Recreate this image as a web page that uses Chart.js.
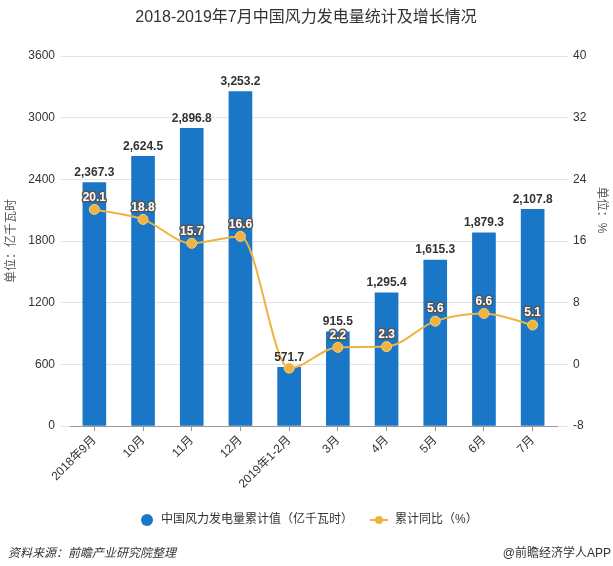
<!DOCTYPE html>
<html>
<head>
<meta charset="utf-8">
<script src="https://cdn.jsdelivr.net/npm/chart.js@4"></script>
<style>
html,body{margin:0;padding:0;background:#fff;}
#wrap{width:613px;height:566px;position:relative;}
</style>
</head>
<body>
<div id="wrap"><canvas id="c" width="613" height="566"></canvas></div>
<script>
const categories = ["2018年9月","10月","11月","12月","2019年1-2月","3月","4月","5月","6月","7月"];
const windPower = [2367.3, 2624.5, 2896.8, 3253.2, 571.7, 915.5, 1295.4, 1615.3, 1879.3, 2107.8];
const growth = [20.1, 18.8, 15.7, 16.6, -0.5, 2.2, 2.3, 5.6, 6.6, 5.1];
const leftTicks = [0, 600, 1200, 1800, 2400, 3000, 3600];
const rightTicks = [-8, 0, 8, 16, 24, 32, 40];

const titleText = "2018-2019年7月中国风力发电量统计及增长情况";
const barName = "中国风力发电量累计值（亿千瓦时）";
const lineName = "累计同比（%）";
const leftTitle = "单位：亿千瓦时";
const rightTitle = "单位：%";
const sourceText = "资料来源：前瞻产业研究院整理";
const brandText = "@前瞻经济学人APP";

const FONT = 'Arial, "Liberation Sans", "Noto Sans CJK SC", sans-serif';
const BAR_COLOR = "#1a76c7";
const LINE_COLOR = "#efb33f";

function fmt(v){
  return v.toLocaleString("en-US",{minimumFractionDigits:1,maximumFractionDigits:1});
}

const extras = {
  id: "extras",
  afterDatasetsDraw(chart){
    const ctx = chart.ctx;
    ctx.save();
    const bm = chart.getDatasetMeta(1);
    ctx.font = "bold 12px " + FONT;
    ctx.fillStyle = "#333";
    ctx.textAlign = "center";
    ctx.textBaseline = "bottom";
    bm.data.forEach((el,i)=>{
      ctx.fillText(fmt(windPower[i]), el.x, el.y - 4);
    });
    const lm = chart.getDatasetMeta(0);
    ctx.textBaseline = "middle";
    ctx.lineJoin = "round";
    lm.data.forEach((el,i)=>{
      if (growth[i] < 0) return;
      const t = growth[i].toFixed(1);
      ctx.lineWidth = 3;
      ctx.strokeStyle = "#555";
      ctx.strokeText(t, el.x, el.y - 12);
      ctx.fillStyle = "#fff";
      ctx.fillText(t, el.x, el.y - 12);
    });
    ctx.restore();
  },
  afterDraw(chart){
    const ctx = chart.ctx;
    const a = chart.chartArea;
    ctx.save();
    ctx.fillStyle = "#333";
    ctx.font = "16px " + FONT;
    ctx.textAlign = "center";
    ctx.textBaseline = "middle";
    ctx.fillText(titleText, 306, 18);
    ctx.font = "12px " + FONT;
    ctx.fillStyle = "#555";
    ctx.save();
    ctx.translate(12, (a.top + a.bottom)/2);
    ctx.rotate(-Math.PI/2);
    ctx.fillText(leftTitle, 0, 0);
    ctx.restore();
    ctx.save();
    ctx.translate(601, 210);
    ctx.rotate(Math.PI/2);
    ctx.fillText(rightTitle, 0, 0);
    ctx.restore();
    const ly = 520;
    ctx.fillStyle = BAR_COLOR;
    ctx.beginPath(); ctx.arc(147, ly, 6, 0, Math.PI*2); ctx.fill();
    ctx.fillStyle = "#333";
    ctx.textAlign = "left";
    ctx.font = "12px " + FONT;
    ctx.fillText(barName, 161, ly);
    ctx.strokeStyle = LINE_COLOR; ctx.lineWidth = 2;
    ctx.beginPath(); ctx.moveTo(370, ly); ctx.lineTo(388, ly); ctx.stroke();
    ctx.fillStyle = LINE_COLOR;
    ctx.beginPath(); ctx.arc(379, ly, 4, 0, Math.PI*2); ctx.fill();
    ctx.fillStyle = "#333";
    ctx.fillText(lineName, 395, ly);
    ctx.font = "italic 12px " + FONT;
    ctx.fillText(sourceText, 8, 554);
    ctx.font = "12px " + FONT;
    ctx.textAlign = "right";
    ctx.fillText(brandText, 611, 554);
    ctx.restore();
  }
};

new Chart(document.getElementById("c"), {
  data: {
    labels: categories,
    datasets: [
      {
        type: "line",
        label: lineName,
        data: growth,
        yAxisID: "y1",
        borderColor: LINE_COLOR,
        backgroundColor: LINE_COLOR,
        borderWidth: 2,
        pointRadius: 5,
        pointBackgroundColor: LINE_COLOR,
        pointBorderColor: "#f7cf7e",
        pointBorderWidth: 1,
        tension: 0.4,
        cubicInterpolationMode: "monotone",
        order: 0
      },
      {
        type: "bar",
        label: barName,
        data: windPower,
        yAxisID: "y",
        backgroundColor: BAR_COLOR,
        barThickness: 23,
        order: 1
      }
    ]
  },
  options: {
    responsive: false,
    animation: false,
    devicePixelRatio: 1,
    layout: { padding: { top: 56, left: 0, right: 0, bottom: 0 } },
    plugins: { legend: { display: false }, tooltip: { enabled: false }, title: { display: false } },
    scales: {
      x: {
        type: "category",
        offset: true,
        grid: { display: true, drawOnChartArea: false, drawTicks: true, tickLength: 5, color: "#999", offset: false },
        border: { display: true, color: "#999" },
        ticks: { color: "#333", font: { size: 12, family: FONT }, minRotation: 45, maxRotation: 45, padding: 2, autoSkip: false },
        afterFit(s){ s.height = 140; }
      },
      y: {
        position: "left",
        min: 0, max: 3600,
        afterBuildTicks(s){ s.ticks = leftTicks.map(v=>({value:v})); },
        grid: { color: "#e3e3e3", drawTicks: true, tickLength: 9 },
        border: { display: false },
        ticks: { color: "#333", font: { size: 12, family: FONT }, padding: 6, callback: v => String(v) },
        afterFit(s){ s.width = 70; }
      },
      y1: {
        position: "right",
        min: -8, max: 40,
        afterBuildTicks(s){ s.ticks = rightTicks.map(v=>({value:v})); },
        grid: { drawOnChartArea: false, drawTicks: true, tickLength: 11, color: "#e3e3e3" },
        border: { display: false },
        ticks: { color: "#333", font: { size: 12, family: FONT }, padding: 5, callback: v => String(v) },
        afterFit(s){ s.width = 56; }
      }
    }
  },
  plugins: [extras]
});
</script>
</body>
</html>
